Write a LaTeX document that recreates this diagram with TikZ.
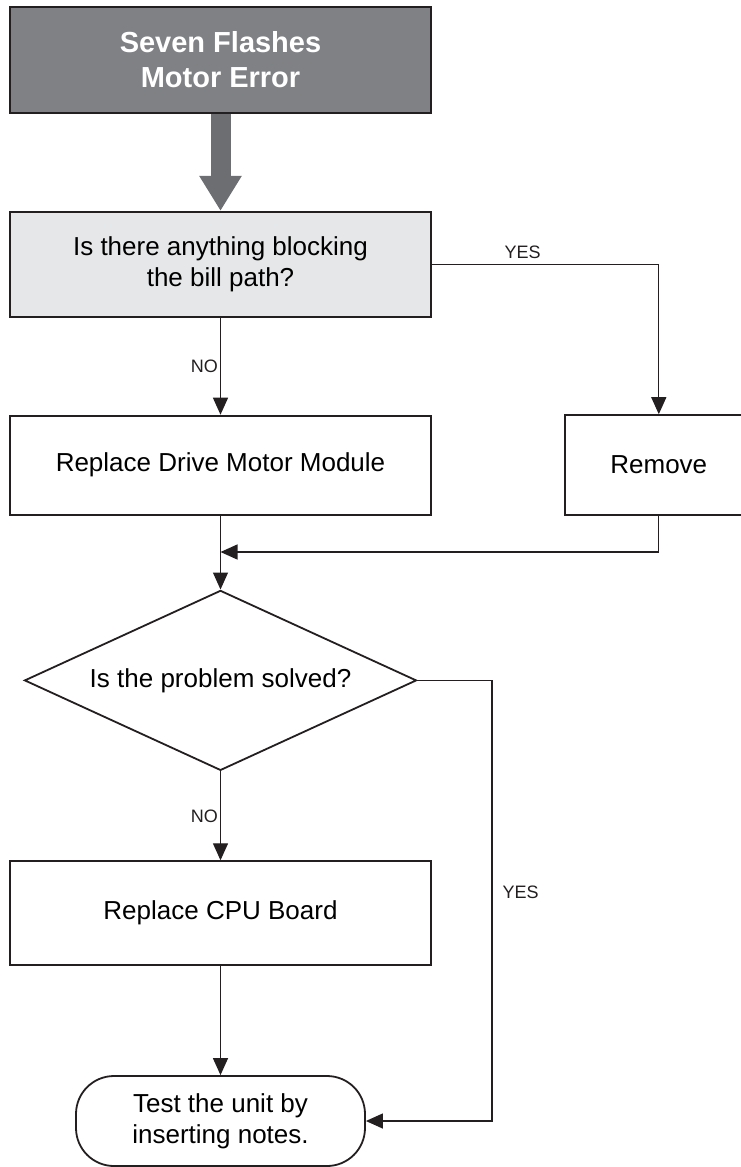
\documentclass[tikz,border=0pt]{standalone}
\usepackage{fontspec}
\setmainfont{Liberation Sans}
\usepackage{tikz}
\usetikzlibrary{positioning,arrows.meta,shapes.geometric}
\definecolor{ink}{HTML}{231F20}
\definecolor{slab}{HTML}{808185}
\definecolor{pale}{HTML}{E6E7E8}
\definecolor{shaft}{HTML}{6D6E71}

\begin{document}
\begin{tikzpicture}[x=1pt, y=-1pt, >={Triangle[length=17pt,width=15pt]},
    font=\fontsize{26}{31}\selectfont,
    box/.style={draw=ink, line width=1.8pt, align=center, minimum width=421pt, inner sep=0pt},
    flow/.style={draw=ink, line width=1.3pt, ->},
    lbl/.style={font=\fontsize{18}{20}\selectfont, text=ink, inner sep=2pt}]
    \useasboundingbox (0,0) rectangle (740,1167);
    \node[box, fill=slab, text=white, minimum height=106pt,
          font=\bfseries\fontsize{29}{35}\selectfont] (title) at (220.5,60)
         {Seven Flashes\\ Motor Error};
    \node[box, fill=pale, minimum height=105pt, below=97pt of title] (q1)
         {Is there anything blocking\\ the bill path?};
    \node[box, minimum height=99pt, below=97pt of q1] (drive) {Replace Drive Motor Module};
    \node[box, minimum width=188pt, minimum height=100pt, right=132pt of drive] (remove) {Remove};
    \node[diamond, draw=ink, line width=1.8pt, aspect=2.18, inner sep=0pt,
          minimum width=392pt, minimum height=180pt, below=74pt of drive] (chk)
         {Is the problem solved?};
    \node[box, minimum height=104pt, below=89pt of chk] (cpu) {Replace CPU Board};
    \node[draw=ink, line width=1.8pt, rounded corners=38pt, align=center, inner sep=0pt,
          minimum width=289pt, minimum height=90pt, below=109pt of cpu] (end)
         {Test the unit by\\ inserting notes.};
    \coordinate (merge) at (drive.south |- 0,552);
    \coordinate (yesrail) at (chk.east -| 492,0);

    \draw[shaft, line width=20pt, -{Triangle[length=35pt,width=40pt]}] (title) -- (q1);
    \draw[flow] (q1) -- node[lbl, left] {NO} (drive);
    \draw[flow] (q1.east) -| node[lbl, pos=0.2, above=3pt] {YES} (remove.north);
    \draw[flow] (remove.south) |- (merge);
    \draw[flow] (drive) -- (chk);
    \draw[flow] (chk) -- node[lbl, left] {NO} (cpu);
    \draw[flow] (chk.east) -- (yesrail) |- node[lbl, pos=0.24, right=8pt] {YES} (end.east);
    \draw[flow] (cpu) -- (end);
\end{tikzpicture}
\end{document}
